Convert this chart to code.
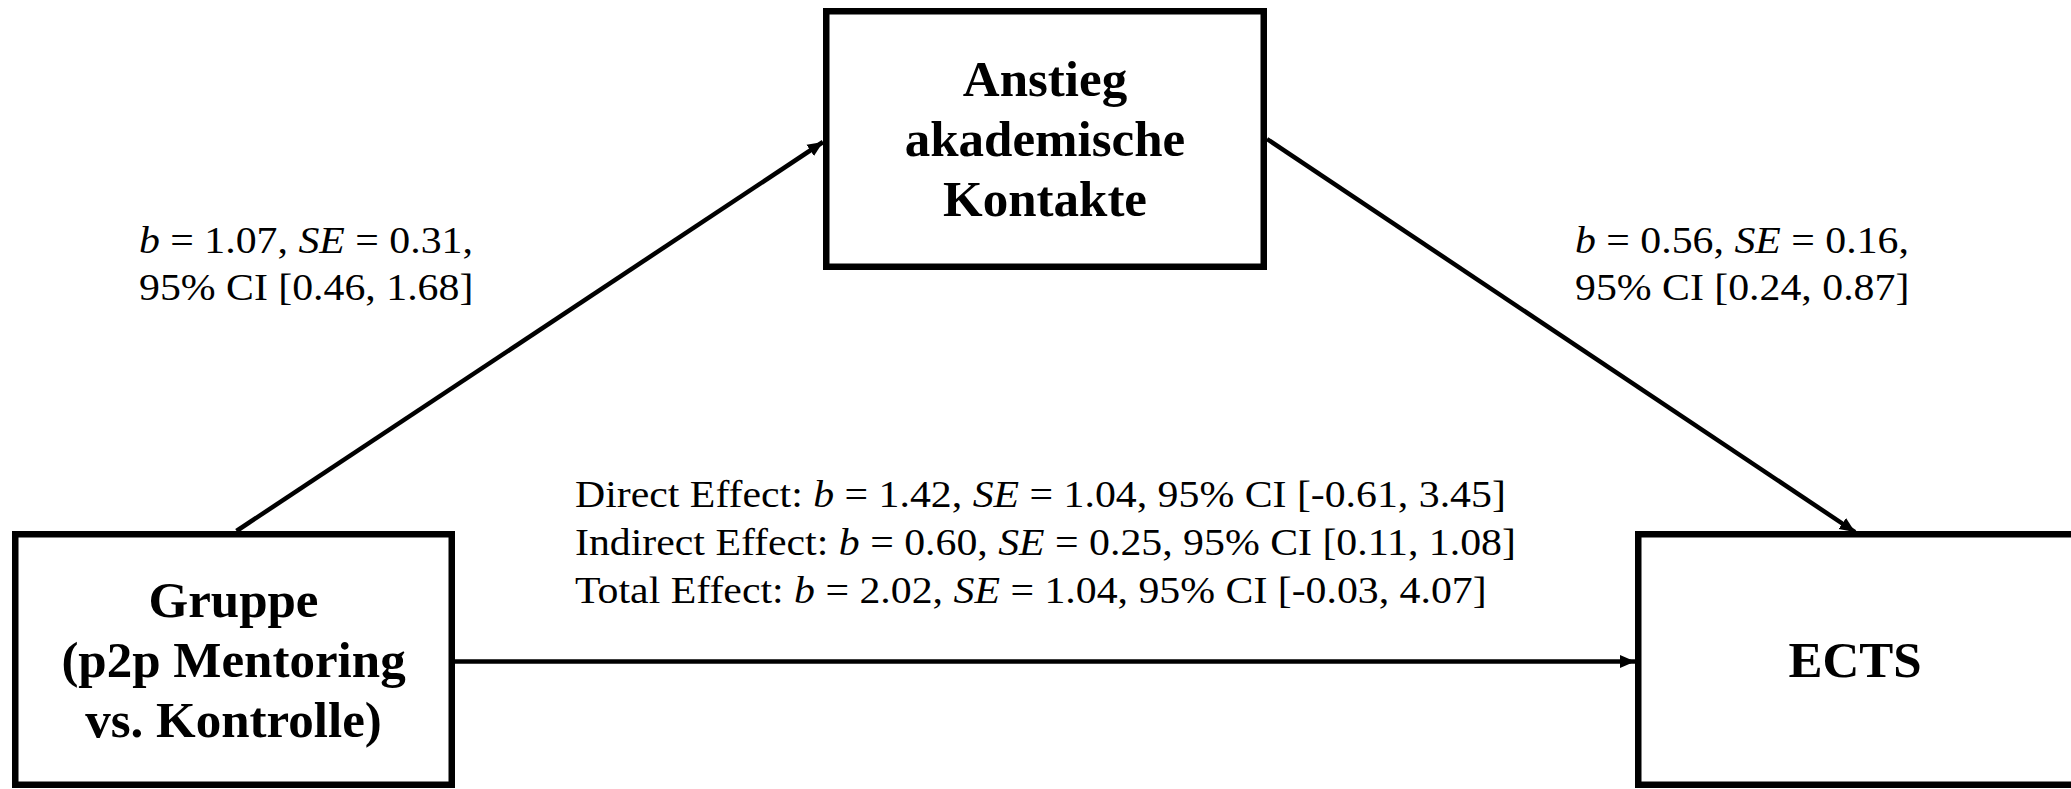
<!DOCTYPE html>
<html>
<head>
<meta charset="utf-8">
<script src="https://cdn.jsdelivr.net/npm/d3@7"></script>
<style>
  html, body { margin: 0; padding: 0; background: #fff; }
  svg { display: block; }
</style>
</head>
<body>
<div id="canvas"></div>
<script>
// box labels: predictor, mediator, outcome
var nodeNames = [
  ["Gruppe", "(p2p Mentoring", "vs. Kontrolle)"],
  ["Anstieg", "akademische", "Kontakte"],
  ["ECTS"]
];

// paths a (X -> M) and b (M -> Y)
var pathB = [1.07, 0.56];
var pathSE = [0.31, 0.16];
var pathLow = [0.46, 0.24];
var pathHigh = [1.68, 0.87];

// effects of X on Y
var effectNames = ["Direct Effect", "Indirect Effect", "Total Effect"];
var effectB = [1.42, 0.60, 2.02];
var effectSE = [1.04, 0.25, 1.04];
var effectLow = [-0.61, 0.11, -0.03];
var effectHigh = [3.45, 1.08, 4.07];

function run() {
  var width = 2071,
    height = 789;

  var fmt = d3
    .formatLocale({ decimal: ".", thousands: ",", grouping: [3], currency: ["", ""], minus: "-" })
    .format(".2f");

  var serif = "'Liberation Serif', 'Times New Roman', Times, serif";

  var svg = d3
    .select("#canvas")
    .append("svg")
    .attr("width", width)
    .attr("height", height);

  svg
    .append("defs")
    .append("marker")
    .attr("id", "head")
    .attr("markerUnits", "userSpaceOnUse")
    .attr("viewBox", "0 -10 20 20")
    .attr("refX", 17)
    .attr("refY", 0)
    .attr("markerWidth", 18)
    .attr("markerHeight", 18)
    .attr("orient", "auto")
    .append("path")
    .attr("d", "M0,-7.5L17,0L0,7.5Z")
    .attr("fill", "#000");

  // box layout (outer edges)
  var boxes = [
    { x0: 12, x1: 455, y0: 531, y1: 788 },
    { x0: 823, x1: 1267, y0: 8, y1: 270 },
    { x0: 1635, x1: 2079, y0: 531, y1: 788 }
  ];
  var bw = 6.5;
  boxes.forEach(function(b, i) {
    b.cx = (b.x0 + b.x1) / 2;
    b.cy = (b.y0 + b.y1) / 2;
    b.names = nodeNames[i];
  });
  boxes[2].cx = 1855;

  var node = svg
    .append("g")
    .selectAll("g")
    .data(boxes)
    .enter()
    .append("g");

  node
    .append("rect")
    .attr("x", function(d) { return d.x0 + bw / 2; })
    .attr("y", function(d) { return d.y0 + bw / 2; })
    .attr("width", function(d) { return d.x1 - d.x0 - bw; })
    .attr("height", function(d) { return d.y1 - d.y0 - bw; })
    .attr("fill", "#fff")
    .attr("stroke", "#000")
    .attr("stroke-width", bw);

  var lh = 60;
  node
    .append("text")
    .attr("font-family", serif)
    .attr("font-weight", "bold")
    .attr("font-size", 51)
    .attr("text-anchor", "middle")
    .attr("fill", "#000")
    .selectAll("tspan")
    .data(function(d) {
      return d.names.map(function(n, i) {
        return { t: n, x: d.cx, y: d.cy + 17 + (i - (d.names.length - 1) / 2) * lh };
      });
    })
    .enter()
    .append("tspan")
    .attr("x", function(d) { return d.x; })
    .attr("y", function(d) { return d.y; })
    .text(function(d) { return d.t; });

  // arrows
  var X = boxes[0], M = boxes[1], Y = boxes[2];
  var arrows = [
    [X.cx + 3, X.y0, M.x0, M.cy + 3],
    [M.x1, M.cy, Y.cx, Y.y0 + 1],
    [X.x1, X.cy + 2, Y.x0, X.cy + 2]
  ];
  svg
    .append("g")
    .selectAll("line")
    .data(arrows)
    .enter()
    .append("line")
    .attr("x1", function(d) { return d[0]; })
    .attr("y1", function(d) { return d[1]; })
    .attr("x2", function(d) { return d[2]; })
    .attr("y2", function(d) { return d[3]; })
    .attr("stroke", "#000")
    .attr("stroke-width", 4.5)
    .attr("marker-end", "url(#head)");

  // statistic segments: [text, italic]
  function stat(b, se) {
    return [
      ["b", true], [" = " + fmt(b) + ", ", false],
      ["SE", true], [" = " + fmt(se) + ", ", false]
    ];
  }

  // regular text in the figure runs a bit wide, so stretch it horizontally
  function richLine(g, x, y, segs) {
    var t = g
      .append("text")
      .attr("transform", "translate(" + x + "," + y + ") scale(1.1,1)")
      .attr("font-family", serif)
      .attr("font-size", 38)
      .attr("fill", "#000")
      .attr("xml:space", "preserve");
    segs.forEach(function(s) {
      t.append("tspan")
        .attr("font-style", s[1] ? "italic" : "normal")
        .text(s[0]);
    });
  }

  var labels = svg.append("g");
  var pathX = [139, 1575];
  pathB.forEach(function(b, i) {
    var l1 = stat(b, pathSE[i]);
    l1[l1.length - 1][0] = l1[l1.length - 1][0].replace(/ $/, "");
    richLine(labels, pathX[i], 253, l1);
    richLine(labels, pathX[i], 300, [["95% CI [" + fmt(pathLow[i]) + ", " + fmt(pathHigh[i]) + "]", false]]);
  });

  effectNames.forEach(function(n, i) {
    var segs = [[n + ": ", false]]
      .concat(stat(effectB[i], effectSE[i]))
      .concat([["95% CI [" + fmt(effectLow[i]) + ", " + fmt(effectHigh[i]) + "]", false]]);
    richLine(labels, 575, 507 + i * 48, segs);
  });
}

(function() {
  run();
})();
</script>
</body>
</html>
